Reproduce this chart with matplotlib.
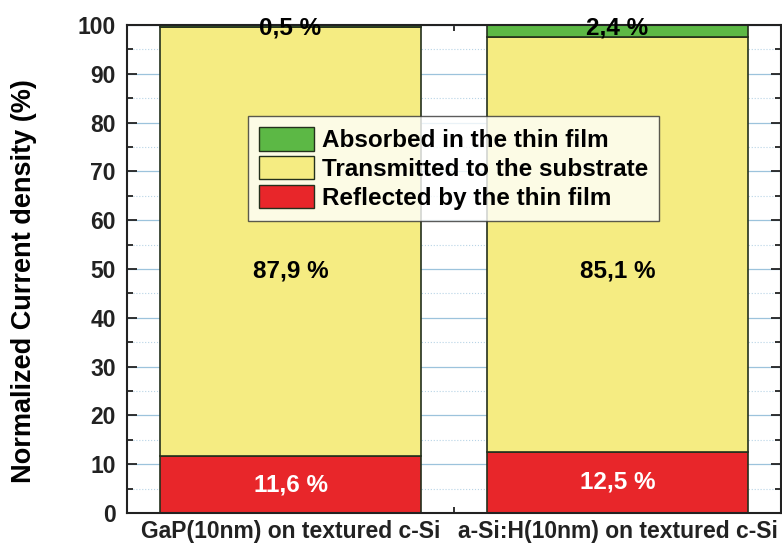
import matplotlib
matplotlib.use("Agg")
import matplotlib.pyplot as plt
from matplotlib.patches import Patch
from matplotlib.ticker import MultipleLocator, FixedLocator

categories = ["GaP(10nm) on textured c-Si", "a-Si:H(10nm) on textured c-Si"]
reflected = [11.6, 12.5]
transmitted = [87.9, 85.1]
absorbed = [0.5, 2.4]
reflected_labels = ["11,6 %", "12,5 %"]
transmitted_labels = ["87,9 %", "85,1 %"]
absorbed_labels = ["0,5 %", "2,4 %"]

plt.rcParams['font.family'] = ['Liberation Sans', 'DejaVu Sans']
plt.rcParams['font.weight'] = 'bold'

fig = plt.figure(figsize=(7.82, 5.45), dpi=100)
ax = fig.add_axes([127/782, 32/545, 654/782, 488/545])

c_red = '#e8262a'
c_yel = '#f5ec82'
c_grn = '#5cb845'
edge = '#24301c'

x = [1, 2]
w = 0.8
ax.bar(x, reflected, w, color=c_red, edgecolor=edge, linewidth=1.2, zorder=3)
ax.bar(x, transmitted, w, bottom=reflected, color=c_yel, edgecolor=edge, linewidth=1.2, zorder=3)
bottoms = [r + t for r, t in zip(reflected, transmitted)]
ax.bar(x, absorbed, w, bottom=bottoms, color=c_grn, edgecolor=edge, linewidth=1.2, zorder=3)

for i in range(2):
    ax.text(x[i], reflected[i] / 2, reflected_labels[i], color='white', ha='center', va='center',
            fontsize=17.5, fontweight='bold', zorder=5)
    ax.text(x[i], 49.5, transmitted_labels[i], color='black', ha='center', va='center',
            fontsize=17.5, fontweight='bold', zorder=5)
    ax.text(x[i], 99.3, absorbed_labels[i], color='black', ha='center', va='center',
            fontsize=17.5, fontweight='bold', zorder=8)

ax.set_xlim(0.5, 2.5)
ax.set_ylim(0, 100)
ax.set_xticks(x)
ax.set_xticklabels(categories, fontsize=16.5, fontweight='bold')
ax.xaxis.set_minor_locator(FixedLocator([1.5]))
ax.yaxis.set_major_locator(MultipleLocator(10))
ax.yaxis.set_minor_locator(MultipleLocator(5))

ax.tick_params(which='both', direction='in', top=True, right=True, width=1.3, colors='#222222')
ax.tick_params(which='major', length=7)
ax.tick_params(which='minor', length=4)
ax.tick_params(axis='y', labelsize=16.5, pad=8)
ax.tick_params(axis='x', pad=5)
for lab in ax.get_yticklabels():
    lab.set_fontweight('bold')

ax.grid(axis='y', which='major', color='#9cc3dc', linewidth=0.9, zorder=0)
ax.grid(axis='y', which='minor', color='#b8d4e6', linewidth=0.8, linestyle=':', zorder=0)
ax.set_axisbelow(True)
for s in ax.spines.values():
    s.set_linewidth(1.5)
    s.set_color('#222222')
    s.set_zorder(6)

ax.set_ylabel("Normalized Current density (%)", fontsize=19.5, fontweight='bold')
ax.yaxis.set_label_coords(-0.138, 0.475)

handles = [Patch(facecolor=c_grn, edgecolor=edge, label="Absorbed in the thin film"),
           Patch(facecolor=c_yel, edgecolor=edge, label="Transmitted to the substrate"),
           Patch(facecolor=c_red, edgecolor=edge, label="Reflected by the thin film")]
leg = ax.legend(handles=handles, loc='upper left', bbox_to_anchor=(0.185, 0.813),
                fontsize=17.5, frameon=True, fancybox=False, edgecolor='#333333',
                handlelength=2.26, handleheight=1.1, handletextpad=0.33, labelspacing=0.16,
                borderpad=0.45, borderaxespad=0)
leg.get_frame().set_linewidth(1.0)
leg.set_zorder(7)
for t in leg.get_texts():
    t.set_fontweight('bold')

fig.savefig("out.png", dpi=100)
